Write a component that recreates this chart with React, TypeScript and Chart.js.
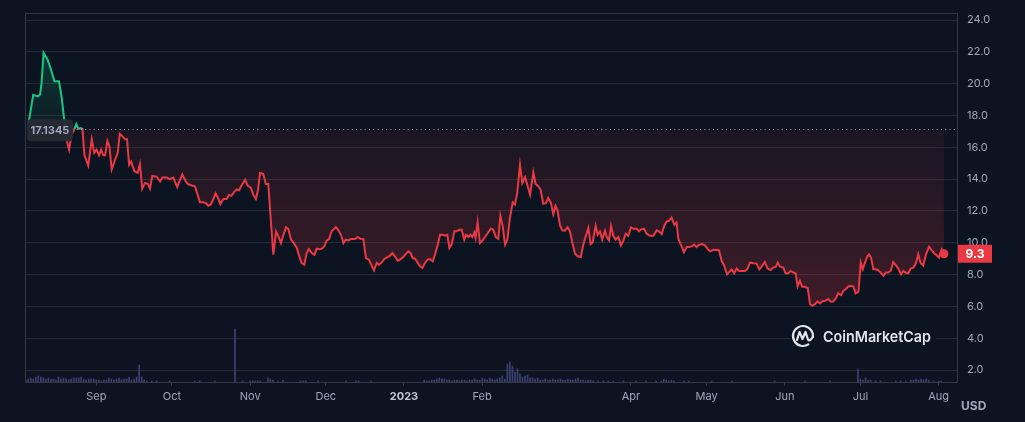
import React, { useEffect, useRef } from "react";
import { Chart, registerables } from "chart.js";

Chart.register(...registerables);

// x values are days since 2022-08-01
const dayOffsets = [
  4.0, 6.0, 7.8, 8.7, 9.3, 10.1, 11.7, 13.0, 14.4, 16.2, 17.3, 18.3, 19.3, 20.2, 21.2, 22.2, 23.1, 23.9, 24.9, 25.5,
  26.3, 27.8, 29.2, 30.2, 31.1, 32.1, 32.9, 33.8, 34.5, 35.4, 36.2, 37.1, 38.4, 39.5, 40.3, 41.3, 42.4, 43.2, 44.0, 44.8,
  46.1, 47.4, 48.3, 49.2, 50.3, 51.4, 52.3, 53.2, 54.9, 56.3, 57.2, 58.9, 60.2, 61.5, 63.1, 64.2, 65.1, 66.2, 67.2, 68.8,
  70.1, 71.2, 72.1, 73.4, 74.4, 75.4, 76.4, 77.4, 78.3, 79.4, 80.2, 81.4, 82.7, 83.6, 84.6, 85.7, 86.7, 87.6, 88.6, 90.0,
  91.0, 92.3, 93.3, 94.3, 95.1, 95.9, 97.2, 98.2, 99.2, 100.1, 101.2, 102.3, 103.2, 104.2, 105.2, 106.2, 107.1, 108.2, 109.5, 110.5,
  111.4, 112.4, 113.5, 114.4, 115.3, 116.4, 117.5, 118.4, 119.4, 120.4, 121.4, 122.3, 123.3, 124.3, 125.3, 126.0, 127.0, 128.0, 129.0, 129.9,
  130.9, 132.0, 133.6, 134.6, 135.7, 136.9, 137.9, 139.1, 140.2, 141.1, 142.2, 143.1, 144.2, 145.2, 146.5, 147.5, 148.4, 149.4, 150.5, 151.4,
  152.7, 153.7, 154.7, 155.7, 156.4, 157.4, 158.3, 159.4, 160.3, 161.3, 162.4, 163.3, 164.4, 165.3, 166.4, 167.3, 168.3, 169.3, 170.2, 171.0,
  171.9, 173.0, 173.9, 174.8, 175.9, 176.9, 177.6, 178.5, 179.4, 180.1, 180.9, 181.4, 182.2, 183.1, 184.2, 185.1, 186.2, 187.5, 188.4, 189.4,
  190.4, 191.2, 192.1, 193.1, 194.0, 195.0, 196.1, 197.0, 197.9, 199.0, 199.9, 201.0, 201.9, 203.0, 204.3, 205.2, 206.3, 207.2, 208.2, 209.3,
  210.2, 211.2, 212.2, 213.1, 213.9, 214.9, 215.8, 216.8, 217.9, 218.8, 219.8, 220.8, 221.9, 223.1, 224.1, 225.0, 226.1, 227.0, 227.8, 229.0,
  229.8, 230.7, 231.6, 232.7, 233.4, 234.3, 235.1, 236.0, 236.9, 238.0, 239.0, 240.0, 240.9, 241.9, 243.0, 243.9, 245.3, 246.2, 247.2, 248.2,
  249.2, 250.5, 251.9, 253.2, 254.1, 255.2, 256.2, 257.2, 258.1, 259.1, 260.2, 261.1, 261.8, 263.1, 264.0, 265.1, 266.0, 267.1, 268.1, 269.0,
  270.0, 271.3, 272.4, 273.4, 274.3, 275.7, 277.9, 279.0, 280.0, 281.1, 282.0, 282.9, 283.9, 284.9, 285.8, 286.9, 288.2, 289.1, 290.2, 291.5,
  292.8, 293.9, 294.8, 296.1, 297.2, 298.4, 299.4, 300.4, 301.2, 302.1, 303.4, 304.3, 305.4, 306.3, 307.4, 308.3, 309.1, 310.0, 310.9, 312.0,
  313.1, 314.0, 315.0, 316.0, 317.0, 318.0, 318.9, 320.0, 321.3, 322.2, 323.2, 324.2, 325.2, 326.3, 327.2, 328.1, 329.2, 330.2, 331.2, 332.1,
  333.2, 334.1, 334.9, 335.8, 336.7, 337.4, 338.2, 339.1, 340.0, 341.1, 342.0, 343.1, 344.0, 345.0, 346.0, 347.0, 348.1, 349.0, 350.1, 351.0,
  351.9, 353.0, 353.9, 355.0, 356.0, 356.9, 357.9, 358.9, 360.0, 361.2, 362.2, 363.3, 364.2, 365.1, 366.2, 367.1,
];

const prices = [
  17.4, 19.3, 19.2, 19.3, 20.05, 21.94, 21.5, 20.9, 20.15, 20.15, 19.1, 17.7, 16.4, 15.85, 16.8, 17.1, 17.47, 17.15, 17.2, 17.15,
  15.5, 14.85, 16.5, 15.65, 15.85, 15.5, 15.85, 15.5, 15.5, 16.4, 16.05, 14.6, 15.2, 15.65, 16.85, 16.7, 16.5, 16.5, 14.9, 15.1,
  14.5, 14.4, 14.95, 13.4, 13.75, 13.7, 13.4, 14.2, 14.15, 13.85, 14.1, 14.1, 14.0, 14.1, 13.5, 13.95, 14.3, 13.95, 13.7, 13.6,
  13.55, 13.0, 12.55, 12.55, 12.5, 12.33, 12.4, 12.75, 13.1, 12.77, 12.43, 12.75, 12.75, 13.0, 12.95, 13.2, 13.35, 13.3, 13.6, 13.95,
  13.6, 13.45, 13.0, 12.75, 13.3, 14.38, 14.33, 13.7, 13.7, 11.65, 9.25, 10.7, 10.4, 9.98, 10.5, 10.97, 10.88, 10.2, 9.94, 9.67,
  9.19, 8.73, 8.62, 9.35, 9.6, 9.35, 9.25, 9.63, 9.6, 9.63, 9.77, 10.13, 10.23, 10.72, 10.86, 10.99, 10.78, 10.5, 9.98, 10.2,
  10.15, 10.23, 10.23, 10.36, 10.25, 10.23, 9.04, 8.94, 8.56, 8.27, 8.73, 8.62, 8.77, 8.98, 9.1, 9.19, 9.35, 9.15, 8.87, 8.94,
  9.1, 9.29, 9.46, 9.35, 9.04, 9.0, 8.77, 8.52, 8.41, 8.73, 8.94, 8.98, 8.83, 9.25, 9.88, 10.5, 10.5, 10.44, 10.5, 9.67,
  9.88, 10.72, 10.72, 10.82, 10.82, 10.2, 10.5, 10.36, 10.5, 10.36, 10.65, 10.3, 11.28, 9.98, 10.15, 10.36, 10.6, 10.9, 10.82, 10.36,
  10.25, 11.7, 11.07, 9.88, 10.2, 11.55, 12.54, 12.39, 13.12, 14.9, 13.75, 14.13, 13.64, 13.02, 14.42, 13.7, 13.54, 13.33, 12.45, 12.49,
  12.81, 12.54, 11.8, 12.33, 12.03, 11.07, 10.78, 10.76, 10.97, 10.72, 9.98, 9.31, 9.15, 9.1, 9.88, 10.36, 10.92, 9.92, 10.02, 11.07,
  10.5, 10.72, 10.2, 10.76, 10.36, 10.15, 11.07, 10.44, 10.2, 10.36, 9.84, 10.13, 10.57, 10.44, 10.97, 10.88, 10.88, 10.72, 10.86, 10.88,
  10.57, 10.44, 10.44, 10.78, 10.72, 10.55, 11.07, 11.34, 11.38, 11.59, 11.13, 11.28, 10.23, 9.77, 9.4, 9.73, 9.73, 9.77, 9.88, 9.73,
  9.88, 9.92, 9.82, 9.61, 9.46, 9.56, 9.54, 8.85, 8.54, 8.02, 8.17, 8.33, 8.08, 8.38, 8.23, 8.23, 8.23, 8.33, 8.75, 8.71,
  8.69, 8.33, 8.5, 8.79, 8.38, 8.29, 8.44, 8.48, 8.75, 8.5, 8.44, 8.08, 8.08, 8.23, 8.13, 8.08, 7.25, 7.6, 7.23, 7.23,
  7.15, 6.15, 6.04, 6.15, 6.31, 6.19, 6.33, 6.35, 6.46, 6.29, 6.31, 6.5, 6.83, 6.71, 6.98, 7.08, 7.25, 7.29, 7.25, 6.83,
  6.92, 8.75, 8.33, 8.75, 9.13, 9.27, 9.06, 8.33, 8.33, 8.27, 8.13, 7.92, 8.13, 8.13, 8.23, 8.79, 8.58, 8.38, 8.02, 8.23,
  8.13, 8.08, 8.38, 8.44, 8.71, 9.27, 8.71, 8.58, 9.27, 9.75, 9.54, 9.33, 9.21, 9.06, 9.58, 9.31,
];

const volumeDays = [
  3, 4, 5, 6, 7, 8, 9, 10, 11, 12, 13, 14, 15, 16, 17, 18, 19, 20, 21, 22, 23, 24, 25, 26, 27, 28, 29, 30, 31, 32,
  33, 34, 35, 36, 37, 38, 39, 40, 41, 42, 43, 44, 45, 46, 47, 48, 49, 50, 51, 53, 55, 60, 70, 72, 78, 86, 89, 92, 93, 94,
  95, 96, 99, 100, 101, 103, 105, 112, 113, 114, 119, 130, 134, 135, 140, 161, 162, 163, 164, 165, 166, 167, 168, 169, 170, 171, 172, 173, 174, 175,
  176, 177, 178, 179, 180, 181, 182, 183, 184, 185, 186, 187, 188, 189, 190, 191, 192, 193, 194, 195, 196, 197, 198, 199, 200, 201, 202, 203, 204, 205,
  206, 207, 208, 209, 210, 211, 212, 213, 214, 215, 216, 217, 218, 219, 220, 221, 222, 223, 224, 225, 226, 227, 228, 230, 232, 234, 236, 240, 245, 249,
  253, 255, 256, 257, 258, 259, 260, 264, 266, 275, 283, 300, 312, 322, 333, 334, 335, 336, 337, 338, 340, 342, 348, 350, 352, 354, 355, 356, 357, 358,
  359, 360, 361, 363, 365, 366,
];

const volumes = [
  2, 3, 4, 3, 5, 6, 5, 4, 3, 4, 3, 3, 2, 5, 3, 4, 3, 2, 3, 4, 4, 4, 5, 3, 2, 3, 3, 3, 2, 2,
  1, 2, 2, 4, 3, 2, 3, 4, 2, 3, 3, 5, 2, 3, 5, 17, 5, 2, 1, 1, 1, 1, 1, 1, 1, 53, 1, 1, 1, 1,
  1, 1, 4, 3, 2, 1, 2, 1, 1, 1, 1, 1, 1, 1, 1, 2, 1, 1, 2, 2, 3, 4, 3, 3, 2, 2, 1, 2, 2, 1,
  2, 2, 1, 2, 2, 3, 2, 2, 4, 3, 2, 4, 3, 2, 3, 4, 6, 3, 18, 20, 16, 10, 13, 8, 5, 6, 7, 4, 4, 3,
  4, 2, 2, 3, 2, 2, 3, 2, 2, 3, 2, 2, 3, 2, 2, 3, 4, 2, 2, 1, 2, 2, 1, 1, 1, 1, 1, 1, 1, 1,
  1, 1, 3, 2, 1, 2, 1, 1, 1, 1, 1, 1, 1, 1, 13, 3, 2, 4, 2, 2, 1, 1, 1, 1, 1, 2, 2, 3, 2, 3,
  2, 3, 2, 1, 1, 1,
];

const monthTickDays = [31, 61, 92, 122, 153, 184, 243, 273, 304, 334, 365];
const monthTickLabels = ["Sep", "Oct", "Nov", "Dec", "2023", "Feb", "Apr", "May", "Jun", "Jul", "Aug"];
const priceTicks = [2, 4, 6, 8, 10, 12, 14, 16, 18, 20, 22, 24];
const baselinePrice = 17.1345;
const baselineLabel = "17.1345";
const lastPriceLabel = "9.3";
const currencyLabel = "USD";
const watermarkText = "CoinMarketCap";

const BG = "#0d1421";
const GREEN = "#16c784";
const RED = "#ea3943";
const GRID = "#252a36";
const BORDER = "#343846";
const TICK_COLOR = "#a1a7bb";
const FONT = "Inter, 'Noto Sans', sans-serif";

function splitGradient(chart: any, c0: string, c1: string, c2: string, c3: string) {
  const area = chart.chartArea;
  const y = chart.scales && chart.scales.y;
  if (!area || !y) return null;
  const g = chart.ctx.createLinearGradient(0, area.top, 0, area.bottom);
  let b = (y.getPixelForValue(baselinePrice) - area.top) / (area.bottom - area.top);
  b = Math.min(1, Math.max(0, b));
  g.addColorStop(0, c0);
  g.addColorStop(b, c1);
  g.addColorStop(b, c2);
  g.addColorStop(1, c3);
  return g;
}

function roundRect(ctx: CanvasRenderingContext2D, x: number, y: number, w: number, h: number, r: number) {
  ctx.beginPath();
  ctx.moveTo(x + r, y);
  ctx.lineTo(x + w - r, y);
  ctx.quadraticCurveTo(x + w, y, x + w, y + r);
  ctx.lineTo(x + w, y + h - r);
  ctx.quadraticCurveTo(x + w, y + h, x + w - r, y + h);
  ctx.lineTo(x + r, y + h);
  ctx.quadraticCurveTo(x, y + h, x, y + h - r);
  ctx.lineTo(x, y + r);
  ctx.quadraticCurveTo(x, y, x + r, y);
  ctx.closePath();
}

const decorPlugin = {
  id: "decor",
  beforeDatasetsDraw(chart: any) {
    const { ctx, chartArea } = chart;
    // watermark
    ctx.save();
    const cx = chartArea.right - 154;
    const cy = chartArea.bottom - 46;
    ctx.fillStyle = BG;
    ctx.fillRect(cx - 13, cy - 8, 146, 16);
    ctx.strokeStyle = "#e1e4ec";
    ctx.lineWidth = 2.2;
    ctx.lineCap = "round";
    ctx.lineJoin = "round";
    ctx.beginPath();
    ctx.arc(cx, cy, 10, Math.PI * 0.32, Math.PI * 2.02);
    ctx.stroke();
    ctx.beginPath();
    ctx.moveTo(cx - 6, cy + 4);
    ctx.lineTo(cx - 3.5, cy - 4);
    ctx.lineTo(cx - 0.5, cy + 3);
    ctx.lineTo(cx + 2.5, cy - 4);
    ctx.lineTo(cx + 5, cy + 3.5);
    ctx.quadraticCurveTo(cx + 7, cy + 6, cx + 10, cy + 0.5);
    ctx.stroke();
    ctx.fillStyle = "#e1e4ec";
    ctx.font = `600 15px ${FONT}`;
    ctx.textAlign = "left";
    ctx.textBaseline = "middle";
    ctx.fillText(watermarkText, cx + 20, cy + 1, 108);
    ctx.restore();
  },
  afterDatasetsDraw(chart: any) {
    const { ctx, chartArea, scales } = chart;
    const yb = scales.y.getPixelForValue(baselinePrice);
    ctx.save();
    // dotted baseline
    ctx.strokeStyle = "#a1a7bb";
    ctx.lineWidth = 1;
    ctx.setLineDash([1, 3.3]);
    ctx.beginPath();
    ctx.moveTo(chartArea.left, Math.round(yb) + 0.5);
    ctx.lineTo(chartArea.right, Math.round(yb) + 0.5);
    ctx.stroke();
    ctx.setLineDash([]);
    // baseline label
    ctx.fillStyle = "rgba(38,42,54,0.95)";
    roundRect(ctx, chartArea.left + 2, yb - 10, 46, 22, 4);
    ctx.fill();
    ctx.fillStyle = "#a1a7bb";
    ctx.font = `bold 11px ${FONT}`;
    ctx.textAlign = "center";
    ctx.textBaseline = "middle";
    ctx.fillText(baselineLabel, chartArea.left + 25, yb + 1);
    // border top/left
    ctx.strokeStyle = BORDER;
    ctx.lineWidth = 1;
    ctx.beginPath();
    ctx.moveTo(chartArea.left + 0.5, chartArea.bottom);
    ctx.lineTo(chartArea.left + 0.5, chartArea.top + 0.5);
    ctx.lineTo(chartArea.right, chartArea.top + 0.5);
    ctx.stroke();
    // last price label
    const last = prices[prices.length - 1];
    const yl = scales.y.getPixelForValue(last);
    ctx.fillStyle = RED;
    ctx.fillRect(chartArea.right + 1, yl - 9, 34, 18);
    ctx.fillStyle = "#ffffff";
    ctx.font = `bold 12px ${FONT}`;
    ctx.textAlign = "center";
    ctx.fillText(lastPriceLabel, chartArea.right + 18, yl + 0.5);
    // currency
    ctx.fillStyle = "#a1a7bb";
    ctx.font = `bold 12px ${FONT}`;
    ctx.textAlign = "left";
    ctx.fillText(currencyLabel, chartArea.right + 4, chartArea.bottom + 24);
    ctx.restore();
  },
};

export default function App() {
  const canvasRef = useRef<HTMLCanvasElement | null>(null);

  useEffect(() => {
    document.body.style.margin = "0";
    document.body.style.background = BG;
    const canvas = canvasRef.current;
    if (!canvas) return;
    const lastIndex = prices.length - 1;
    const maxVol = Math.max(...volumes);

    const chart = new Chart(canvas, {
      data: {
        datasets: [
          {
            type: "line",
            label: "Price",
            data: dayOffsets.map((d, i) => ({ x: d, y: prices[i] })),
            yAxisID: "y",
            order: 0,
            borderWidth: 2,
            tension: 0,
            borderColor: (c: any) => splitGradient(c.chart, GREEN, GREEN, RED, RED) || RED,
            backgroundColor: (c: any) =>
              splitGradient(
                c.chart,
                "rgba(22,199,132,0.30)",
                "rgba(22,199,132,0.04)",
                "rgba(234,57,67,0.06)",
                "rgba(234,57,67,0.30)"
              ) || "rgba(234,57,67,0.15)",
            fill: { value: baselinePrice },
            pointRadius: (c: any) => (c.dataIndex === lastIndex ? 4.5 : 0),
            pointHoverRadius: 0,
            pointBackgroundColor: RED,
            pointBorderWidth: 0,
          } as any,
          {
            type: "bar",
            label: "Volume",
            data: volumeDays.map((d, i) => ({ x: d, y: volumes[i] })),
            yAxisID: "yv",
            order: 1,
            backgroundColor: "#3a4170",
            barThickness: 1,
          } as any,
        ],
      },
      options: {
        animation: false,
        responsive: true,
        maintainAspectRatio: false,
        layout: { padding: { left: 25, top: 13, right: 0, bottom: 0 } },
        plugins: { legend: { display: false }, tooltip: { enabled: false } },
        scales: {
          x: {
            type: "linear",
            position: "bottom",
            offset: false,
            min: 2.73,
            max: 372.28,
            afterBuildTicks: (scale: any) => {
              scale.ticks = monthTickDays.map((v) => ({ value: v }));
            },
            afterFit: (scale: any) => {
              scale.height = 40;
              scale.paddingLeft = 0;
              scale.paddingRight = 0;
            },
            grid: { display: true, offset: false, drawOnChartArea: false, drawTicks: true, tickLength: 4, color: BORDER },
            border: { display: true, color: BORDER },
            ticks: {
              autoSkip: false,
              maxRotation: 0,
              padding: 4,
              color: (c: any) => (c.tick && c.tick.label === "2023" ? "#c3c8d6" : TICK_COLOR),
              font: (c: any) => ({
                family: FONT,
                size: 11,
                weight: c.tick && c.tick.label === "2023" ? "bold" : "normal",
              }),
              callback: (v: any) => {
                const idx = monthTickDays.indexOf(Number(v));
                return idx >= 0 ? monthTickLabels[idx] : "";
              },
            },
          },
          y: {
            type: "linear",
            position: "right",
            min: 1.25,
            max: 24.44,
            afterBuildTicks: (scale: any) => {
              scale.ticks = priceTicks.map((v) => ({ value: v }));
            },
            afterFit: (scale: any) => {
              scale.width = 68;
              scale.paddingTop = 0;
              scale.paddingBottom = 0;
            },
            grid: { color: GRID, drawTicks: false },
            border: { display: true, color: BORDER },
            ticks: {
              padding: 10,
              color: TICK_COLOR,
              font: { family: FONT, size: 11 },
              callback: (v: any) => Number(v).toFixed(1),
            },
          },
          yv: {
            type: "linear",
            display: false,
            min: 0,
            max: maxVol * 6.96,
          },
        },
      } as any,
      plugins: [decorPlugin],
    });
    return () => chart.destroy();
  }, []);

  return (
    <div style={{ width: 1025, height: 422, position: "relative", background: BG }}>
      <canvas ref={canvasRef} />
    </div>
  );
}
